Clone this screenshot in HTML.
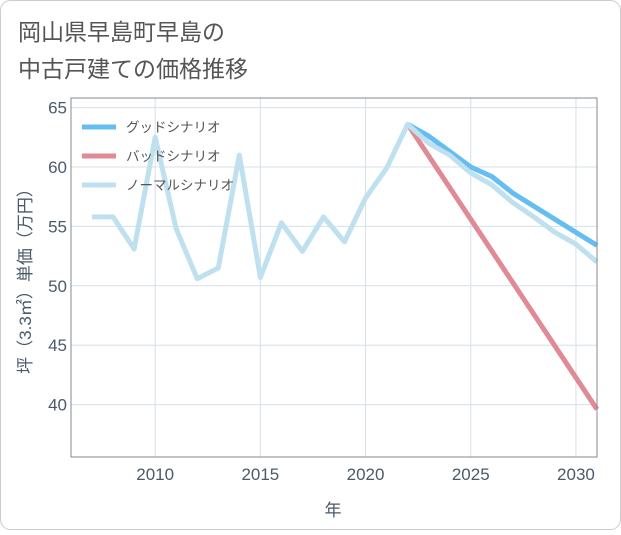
<!DOCTYPE html>
<html><head><meta charset="utf-8"><style>
body{margin:0;background:#fff;font-family:"Liberation Sans","Noto Sans CJK JP",sans-serif;}
#wrap{position:relative;width:621px;height:530px;}
</style></head><body>
<div id="wrap">
<svg id="svg" width="621" height="530" xmlns="http://www.w3.org/2000/svg">
<rect x="0.5" y="0.5" width="620" height="529" rx="10" fill="#fff" stroke="#ccc"/>
<text x="18" y="40" font-size="23" fill="#555">岡山県早島町早島の</text>
<text x="18" y="77" font-size="23" fill="#555">中古戸建ての価格推移</text>
<g id="grid"></g><g id="series"></g><g id="axes"></g>
<text x="333" y="516" font-size="17" fill="#4a5a6a" text-anchor="middle">年</text>
<text transform="translate(31,277) rotate(-90)" font-size="17" fill="#4a5a6a" text-anchor="middle">坪（3.3㎡）単価（万円）</text>
<g id="legend"></g>
</svg></div>
<script>
const years=[2007,2008,2009,2010,2011,2012,2013,2014,2015,2016,2017,2018,2019,2020,2021,2022,2023,2024,2025,2026,2027,2028,2029,2030,2031];
const normalVals=[55.8,55.8,53.1,62.5,54.8,50.6,51.5,61.0,50.7,55.3,52.9,55.8,53.7,57.4,59.9,63.6,62.0,61.0,59.5,58.5,57.0,55.8,54.5,53.5,52.0];
const goodYears=[2022,2023,2024,2025,2026,2027,2028,2029,2030,2031];
const goodVals=[63.6,62.6,61.3,60.0,59.2,57.8,56.7,55.6,54.5,53.4];
const badYears=[2022,2031];
const badVals=[63.6,39.6];
const xTicks=[2010,2015,2020,2025,2030];
const yTicks=[40,45,50,55,60,65];
const NS="http://www.w3.org/2000/svg";
const L=71,R=597,T=98,B=457;
const x=v=>L+(v-2006)*(R-L)/25;
const y=v=>167-(v-60)*59.4/5;
function mk(tag,attrs,parent){const e=document.createElementNS(NS,tag);for(const k in attrs)e.setAttribute(k,attrs[k]);parent.appendChild(e);return e;}
const grid=document.getElementById('grid'),axes=document.getElementById('axes'),ser=document.getElementById('series'),leg=document.getElementById('legend');
for(const t of xTicks){const l=mk('line',{x1:x(t),x2:x(t),y1:T,y2:B,stroke:'#d5e0e8'},grid);


const tx=mk('text',{x:x(t),y:B+23,'font-size':17,fill:'#4a5a6a','text-anchor':'middle'},axes);tx.textContent=t;

}
for(const t of yTicks){const l=mk('line',{x1:L,x2:R,y1:y(t),y2:y(t),stroke:'#d5e0e8'},grid);


const tx=mk('text',{x:L-4,y:y(t)+6,'font-size':17,fill:'#4a5a6a','text-anchor':'end'},axes);tx.textContent=t;

}
const fr=mk('rect',{x:L,y:T,width:R-L,height:B-T,fill:'none',stroke:'#888'},axes);


function line(xs,vs,color,name){const p=mk('polyline',{points:xs.map((v,i)=>x(v)+','+y(vs[i])).join(' '),fill:'none',stroke:color,'stroke-width':5,'stroke-linejoin':'round'},ser);

}
line(goodYears,goodVals,'#66bdf2','good-scenario-line');
line(badYears,badVals,'#e08a95','bad-scenario-line');
line(years,normalVals,'#bfe0ee','normal-scenario-line');
const legItems=[['グッドシナリオ','#66bdf2'],['バッドシナリオ','#e08a95'],['ノーマルシナリオ','#bfe0ee']];
legItems.forEach((it,i)=>{const yy=127+i*29;
const l=mk('line',{x1:82,x2:116,y1:yy,y2:yy,stroke:it[1],'stroke-width':5},leg);


const t=mk('text',{x:126,y:yy+5,'font-size':13.5,fill:'#555'},leg);t.textContent=it[0];

});
</script></body></html>
